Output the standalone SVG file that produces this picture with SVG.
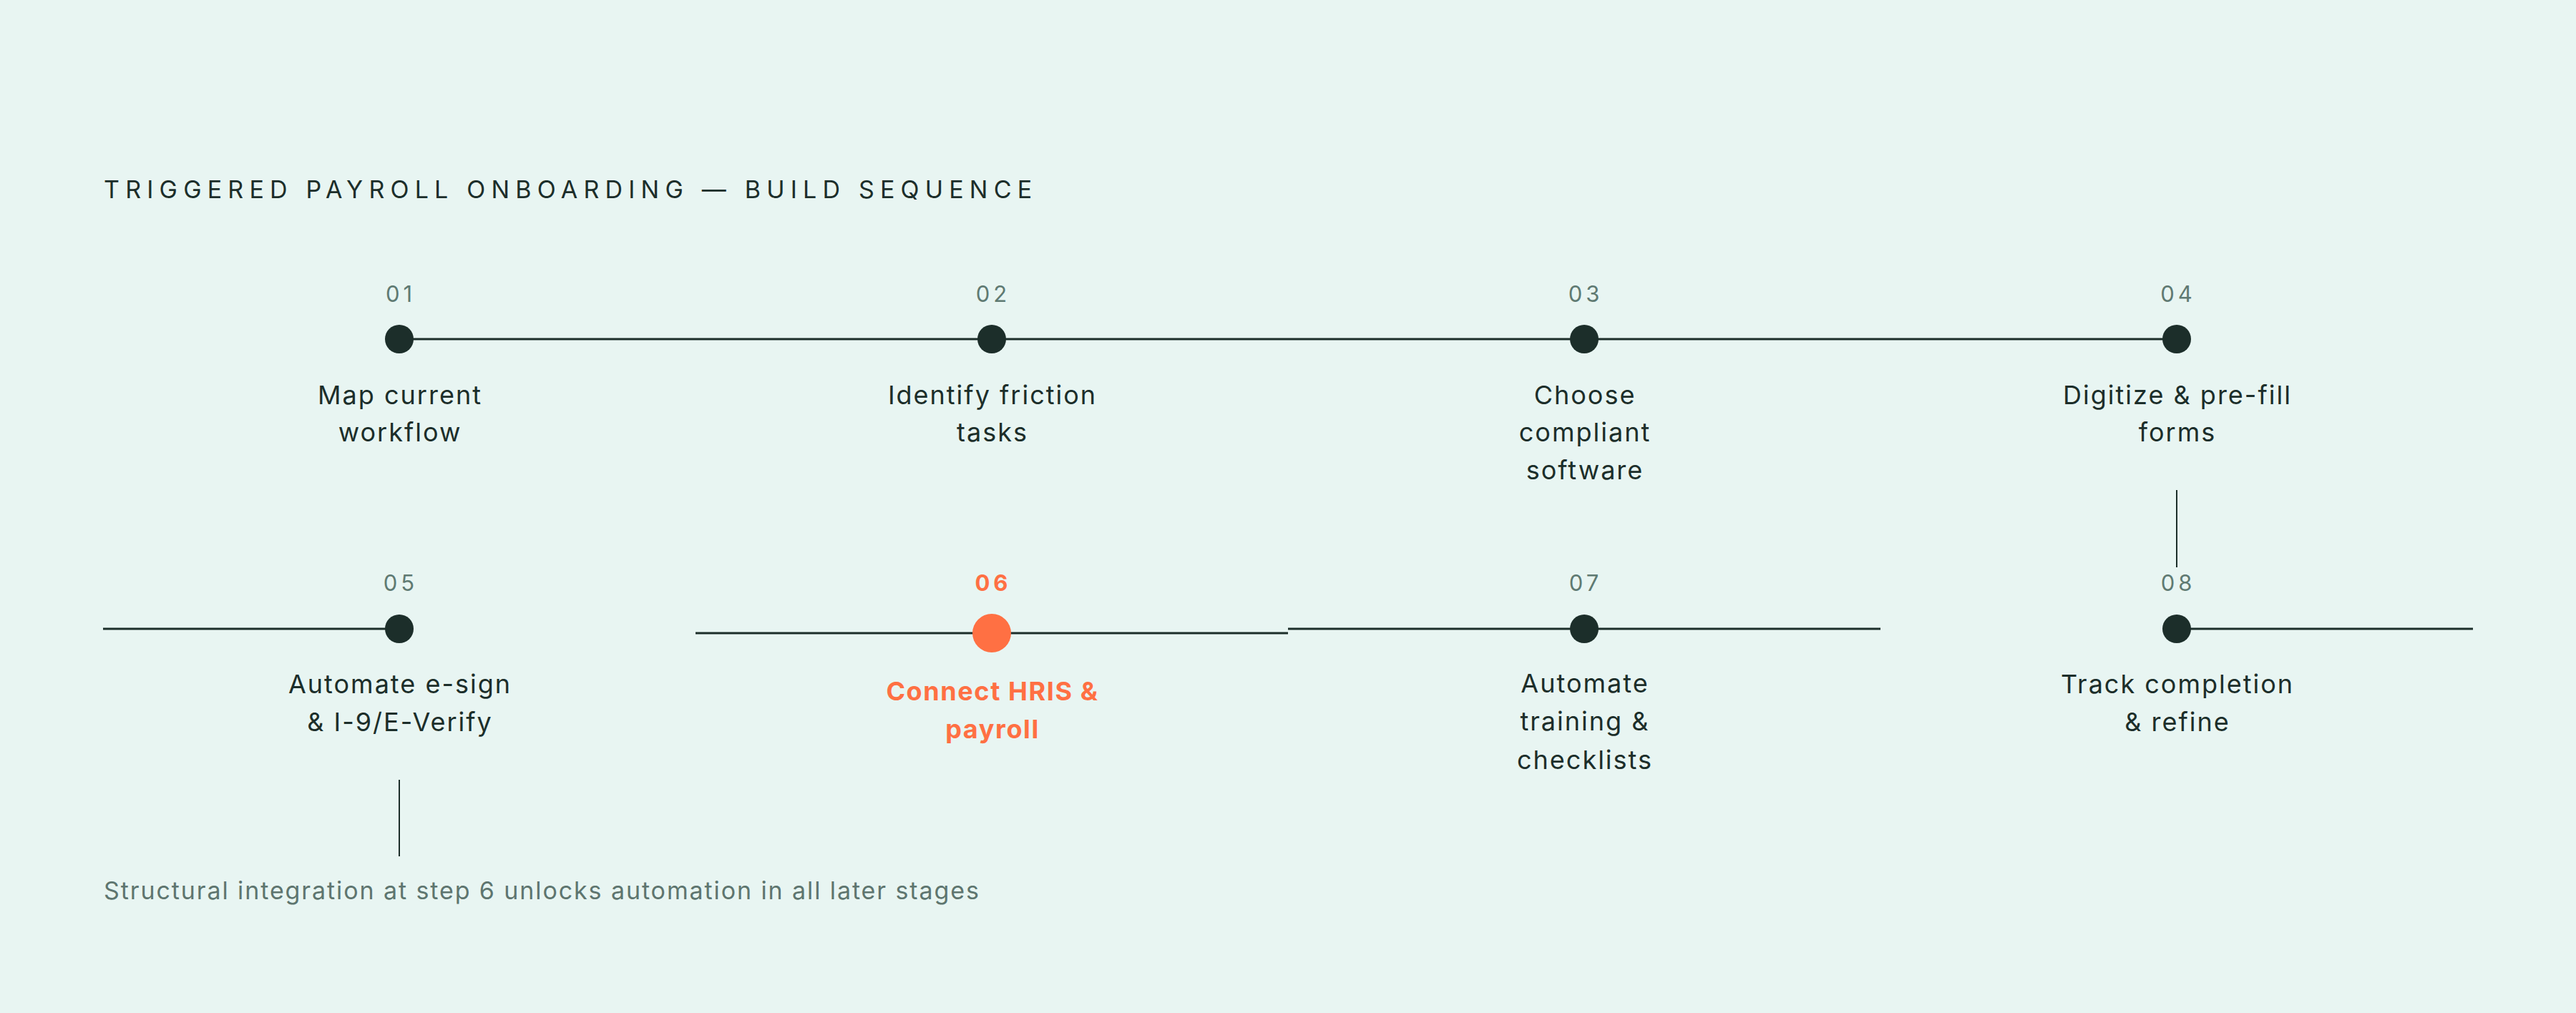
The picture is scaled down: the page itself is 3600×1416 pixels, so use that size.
<svg xmlns="http://www.w3.org/2000/svg" width="3600" height="1416" viewBox="0 0 3600 1416">
<style>
.bg{fill:#e8f5f2}
.title{font-family:Inter,"Liberation Sans",sans-serif;font-size:34px;fill:#1c2e2a;letter-spacing:8.2px}
.num{font-family:Inter,"Liberation Sans",sans-serif;font-size:31px;fill:#5f7a72;letter-spacing:5px;text-anchor:middle}
.num.hot{fill:#ff7043;font-weight:700}
.lbl{font-family:Inter,"Liberation Sans",sans-serif;font-size:36px;fill:#1c2e2a;text-anchor:middle;letter-spacing:2px}
.lbl.hot{fill:#ff7043;font-weight:700;letter-spacing:1.6px}
.dot{fill:#1c2e2a}
.dot.hot{fill:#ff7043}
.ln{stroke:#1c2e2a;stroke-width:3;fill:none}
.tick{stroke:#1c2e2a;stroke-width:2;fill:none}
.foot{font-family:Inter,"Liberation Sans",sans-serif;font-size:34px;fill:#5e756f;letter-spacing:1.9px}
</style>
<rect class="bg" x="0" y="0" width="3600" height="1416"/>
<text class="title" x="145" y="277">TRIGGERED PAYROLL ONBOARDING — BUILD SEQUENCE</text>
<g id="connectors">
<line class="ln" x1="558" y1="474" x2="3042" y2="474"/>
<line class="ln" x1="144" y1="879" x2="558" y2="879"/>
<line class="ln" x1="972" y1="885" x2="1800" y2="885"/>
<line class="ln" x1="1800" y1="879" x2="2628" y2="879"/>
<line class="ln" x1="3042" y1="879" x2="3456" y2="879"/>
<line class="tick" x1="3042" y1="685" x2="3042" y2="793"/>
<line class="tick" x1="558" y1="1090" x2="558" y2="1197"/>
</g>
<g id="step01">
<text class="num" x="560" y="422">01</text>
<circle class="dot" cx="558" cy="474" r="20"/>
<text class="lbl" x="559" y="565">Map current</text>
<text class="lbl" x="559" y="617">workflow</text>
</g>
<g id="step02">
<text class="num" x="1388" y="422">02</text>
<circle class="dot" cx="1386" cy="474" r="20"/>
<text class="lbl" x="1387" y="565">Identify friction</text>
<text class="lbl" x="1387" y="617">tasks</text>
</g>
<g id="step03">
<text class="num" x="2216" y="422">03</text>
<circle class="dot" cx="2214" cy="474" r="20"/>
<text class="lbl" x="2215" y="565">Choose</text>
<text class="lbl" x="2215" y="617">compliant</text>
<text class="lbl" x="2215" y="670">software</text>
</g>
<g id="step04">
<text class="num" x="3044" y="422">04</text>
<circle class="dot" cx="3042" cy="474" r="20"/>
<text class="lbl" x="3043" y="565">Digitize &amp; pre-fill</text>
<text class="lbl" x="3043" y="617">forms</text>
</g>
<g id="step05">
<text class="num" x="560" y="826">05</text>
<circle class="dot" cx="558" cy="879" r="20"/>
<text class="lbl" x="559" y="969">Automate e-sign</text>
<text class="lbl" x="559" y="1022">&amp; I-9/E-Verify</text>
</g>
<g id="step06">
<text class="num hot" x="1388" y="826">06</text>
<circle class="dot hot" cx="1386" cy="885" r="27"/>
<text class="lbl hot" x="1387" y="979">Connect HRIS &amp;</text>
<text class="lbl hot" x="1387" y="1032">payroll</text>
</g>
<g id="step07">
<text class="num" x="2216" y="826">07</text>
<circle class="dot" cx="2214" cy="879" r="20"/>
<text class="lbl" x="2215" y="968">Automate</text>
<text class="lbl" x="2215" y="1021">training &amp;</text>
<text class="lbl" x="2215" y="1075">checklists</text>
</g>
<g id="step08">
<text class="num" x="3044" y="826">08</text>
<circle class="dot" cx="3042" cy="879" r="20"/>
<text class="lbl" x="3043" y="969">Track completion</text>
<text class="lbl" x="3043" y="1022">&amp; refine</text>
</g>
<text class="foot" x="145" y="1257">Structural integration at step 6 unlocks automation in all later stages</text>
</svg>
